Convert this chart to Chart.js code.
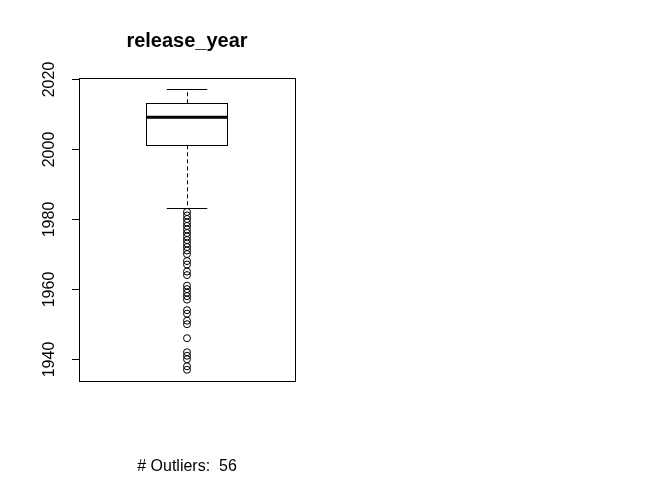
<!DOCTYPE html>
<html>
<head>
<meta charset="utf-8">
<script src="https://cdn.jsdelivr.net/npm/chart.js@4"></script>
<style>
  html, body { margin: 0; padding: 0; background: #fff; }
  #wrap { width: 672px; height: 480px; }
</style>
</head>
<body>
<div id="wrap"><canvas id="c" width="672" height="480"></canvas></div>
<script>
// ---- data ----
const titleText = "release_year";
const outlierCountLabel = "# Outliers:  56";
const boxStats = [1983, 2001, 2009, 2013, 2017]; // lower whisker, Q1, median, Q3, upper whisker
const outliers = [1982, 1981, 1980, 1979, 1978, 1977, 1976, 1975, 1974, 1973, 1972, 1971, 1970,
                  1968, 1967, 1965, 1964, 1961, 1960, 1959, 1958, 1957, 1954, 1953, 1951, 1950,
                  1946, 1942, 1941, 1940, 1938, 1937];
const yTicks = [1940, 1960, 1980, 2000, 2020];

const dataMin = Math.min(...outliers, boxStats[0]);
const dataMax = Math.max(...outliers, boxStats[4]);
const ext = (dataMax - dataMin) * 0.04;

const boxPlugin = {
  id: 'rbox',
  afterDatasetsDraw(chart) {
    const ctx = chart.ctx;
    const ys = chart.scales.y, xs = chart.scales.x;
    const ca = chart.chartArea;
    const cx = xs.getPixelForValue(1);
    const halfBox = xs.getPixelForValue(1.225) - cx;
    const halfCap = halfBox / 2;
    const [lo, q1, med, q3, hi] = boxStats.map(v => ys.getPixelForValue(v));
    ctx.save();
    ctx.strokeStyle = '#000';
    ctx.lineWidth = 1;
    // whiskers (dashed)
    ctx.setLineDash([4, 3]);
    ctx.beginPath();
    ctx.moveTo(Math.round(cx) + 0.5, q3); ctx.lineTo(Math.round(cx) + 0.5, hi);
    ctx.moveTo(Math.round(cx) + 0.5, q1); ctx.lineTo(Math.round(cx) + 0.5, lo);
    ctx.stroke();
    ctx.setLineDash([]);
    // caps
    ctx.beginPath();
    ctx.moveTo(cx - halfCap, Math.round(hi) + 0.5); ctx.lineTo(cx + halfCap, Math.round(hi) + 0.5);
    ctx.moveTo(cx - halfCap, Math.round(lo) + 0.5); ctx.lineTo(cx + halfCap, Math.round(lo) + 0.5);
    ctx.stroke();
    // box
    ctx.strokeRect(Math.round(cx - halfBox) + 0.5, Math.round(q3) + 0.5,
                   Math.round(2 * halfBox), Math.round(q1 - q3));
    // median
    ctx.lineWidth = 3;
    ctx.beginPath();
    ctx.moveTo(cx - halfBox, med); ctx.lineTo(cx + halfBox, med);
    ctx.stroke();
    // plot frame
    ctx.lineWidth = 1;
    ctx.strokeRect(Math.round(ca.left) + 0.5, Math.round(ca.top) + 0.5,
                   Math.round(ca.right - ca.left), Math.round(ca.bottom - ca.top));
    // y axis ticks & labels
    ctx.fillStyle = '#000';
    ctx.font = '16px "Liberation Sans", Arial, sans-serif';
    ctx.textAlign = 'center';
    ctx.textBaseline = 'middle';
    yTicks.forEach(t => {
      const py = Math.round(ys.getPixelForValue(t)) + 0.5;
      ctx.beginPath();
      ctx.moveTo(ca.left - 7, py); ctx.lineTo(ca.left, py);
      ctx.stroke();
      ctx.save();
      ctx.translate(ca.left - 29, py);
      ctx.rotate(-Math.PI / 2);
      ctx.fillText(String(t), 0, 0);
      ctx.restore();
    });
    // title
    ctx.font = 'bold 20px "Liberation Sans", Arial, sans-serif';
    ctx.fillText(titleText, (ca.left + ca.right) / 2, 41);
    // outlier count
    ctx.font = '16px "Liberation Sans", Arial, sans-serif';
    ctx.fillText(outlierCountLabel, (ca.left + ca.right) / 2, 467);
    ctx.restore();
  }
};

new Chart(document.getElementById('c'), {
  type: 'scatter',
  data: {
    datasets: [{
      data: outliers.map(v => ({ x: 1, y: v })),
      pointStyle: 'circle',
      pointRadius: 3.5,
      pointBorderWidth: 1,
      borderColor: '#000',
      backgroundColor: 'rgba(0,0,0,0)',
      pointHoverRadius: 3.5
    }]
  },
  options: {
    responsive: false,
    animation: false,
    events: [],
    layout: { padding: { left: 79, top: 78, right: 377, bottom: 99 } },
    plugins: { legend: { display: false }, title: { display: false }, tooltip: { enabled: false } },
    scales: {
      x: { type: 'linear', display: false, min: 0.4, max: 1.6 },
      y: { type: 'linear', display: false, min: dataMin - ext, max: dataMax + ext }
    }
  },
  plugins: [boxPlugin]
});
</script>
</body>
</html>
